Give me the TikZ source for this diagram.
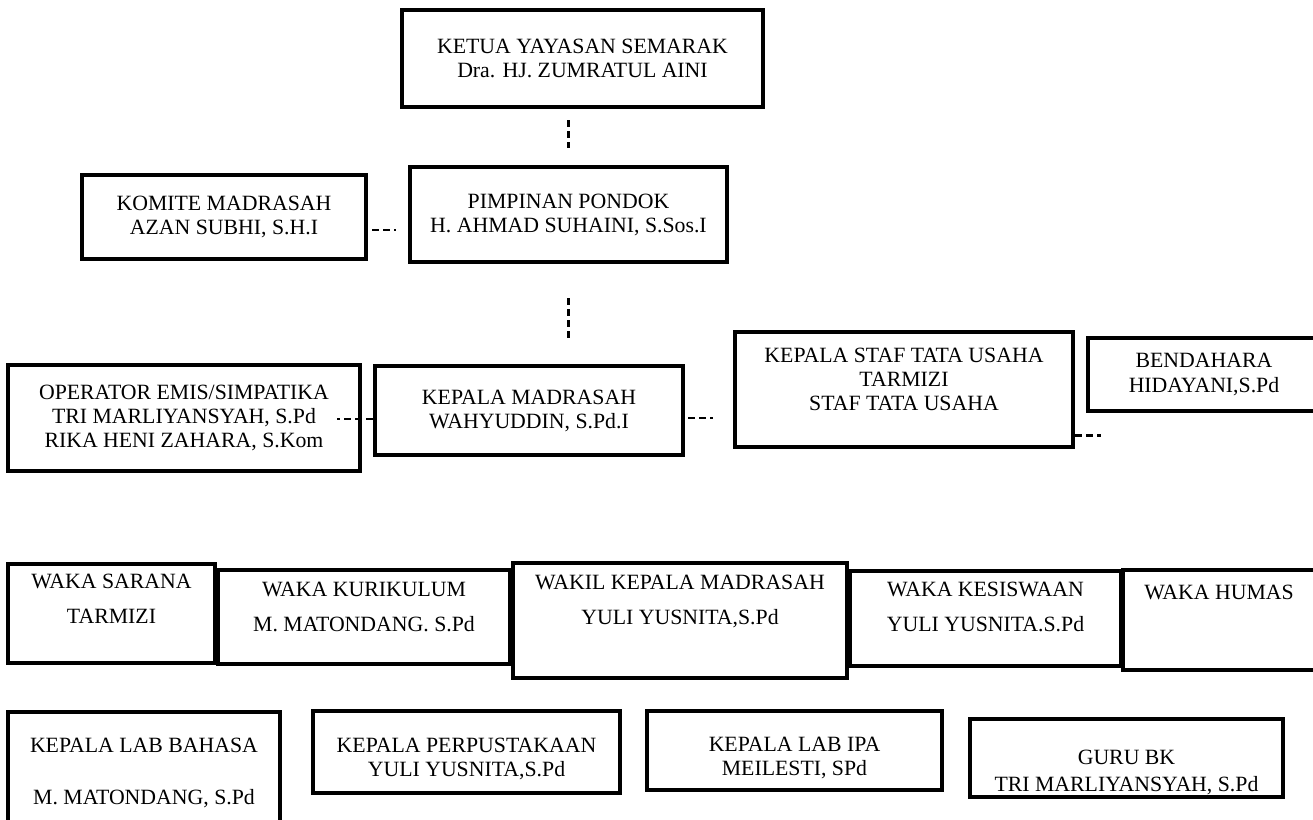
\documentclass[tikz,border=0pt]{standalone}
\usepackage{fontspec}
\setmainfont{Liberation Serif}
\usetikzlibrary{
    positioning % For relative placement of nodes
}

\begin{document}
\begin{tikzpicture}[
    x=0.02cm, y=-0.02cm, % one unit is one pixel of the page, y runs down
    font=\fontsize{12.4}{13.7}\selectfont,
    box_style/.style={draw=black, line width=2.6pt, rectangle, align=center, inner sep=0pt},
    row_style/.style={box_style, font=\fontsize{12.4}{19.9}\selectfont},
    link_style/.style={draw=black, line width=1.4pt, dash pattern=on 0.14cm off 0.08cm}
]
    % Page size
    \useasboundingbox (0,0) rectangle (1313,819);

    % Top of the chart
    \node[box_style, minimum width=7.22cm, minimum height=1.94cm] (ketua) at (582.5,58.5)
        {KETUA YAYASAN SEMARAK\\ Dra. HJ. ZUMRATUL AINI};
    \node[box_style, minimum width=5.68cm, minimum height=1.68cm] (komite) at (224,217)
        {KOMITE MADRASAH\\ AZAN SUBHI, S.H.I};
    \node[box_style, minimum width=6.34cm, minimum height=1.90cm] (pimpinan) at (568.5,214.5)
        {PIMPINAN PONDOK\\ H. AHMAD SUHAINI, S.Sos.I};

    % Madrasah level
    \node[box_style, minimum width=7.04cm, minimum height=2.12cm] (operator) at (184,418)
        {OPERATOR EMIS/SIMPATIKA\\ TRI MARLIYANSYAH, S.Pd\\ RIKA HENI ZAHARA, S.Kom};
    \node[box_style, minimum width=6.16cm, minimum height=1.78cm] (kepala) at (529,410.5)
        {KEPALA MADRASAH\\ WAHYUDDIN, S.Pd.I};
    \node[box_style, minimum width=6.76cm, minimum height=2.30cm] (staf) at (904,389.5)
        {KEPALA STAF TATA USAHA\\ TARMIZI\\ STAF TATA USAHA\\[-6.3pt] \strut};
    \node[box_style, minimum width=4.64cm, minimum height=1.46cm] (bendahara) at (1204,374.5)
        {BENDAHARA\\ HIDAYANI,S.Pd};

    % Waka row
    \node[row_style, minimum width=4.14cm, minimum height=1.98cm] (sarana) at (111.5,613.5)
        {WAKA SARANA\\ TARMIZI\\[-9.1pt] \strut};
    \node[row_style, minimum width=5.84cm, minimum height=1.88cm] (kurikulum) at (364,617)
        {WAKA KURIKULUM\\ M. MATONDANG. S.Pd\\[-14.8pt] \strut};
    \node[row_style, minimum width=6.68cm, minimum height=2.30cm] (wakil) at (680,620.5)
        {WAKIL KEPALA MADRASAH\\ YULI YUSNITA,S.Pd\\[-2.3pt] \strut};
    \node[row_style, minimum width=5.42cm, minimum height=1.90cm] (kesiswaan) at (985.5,618.5)
        {WAKA KESISWAAN\\ YULI YUSNITA.S.Pd\\[-12.5pt] \strut};
    \node[row_style, minimum width=3.84cm, minimum height=2.00cm] (humas) at (1219,620)
        {WAKA HUMAS\\ \strut\\[-13.7pt] \strut};

    % Bottom row
    \node[box_style, minimum width=5.44cm, minimum height=2.76cm] (labbahasa) at (144,781)
        {\rule{0pt}{15pt}KEPALA LAB BAHASA\\[1pt] \strut\\[1pt] M. MATONDANG, S.Pd\\ \strut};
    \node[box_style, minimum width=6.14cm, minimum height=1.64cm] (perpus) at (466.5,752)
        {\rule{0pt}{16.2pt}KEPALA PERPUSTAKAAN\\ YULI YUSNITA,S.Pd};
    \node[box_style, minimum width=5.90cm, minimum height=1.58cm] (labipa) at (794.5,750.5)
        {\rule{0pt}{16.2pt}KEPALA LAB IPA\\ MEILESTI, SPd};
    \node[box_style, minimum width=6.26cm, minimum height=1.56cm] (gurubk) at (1126.5,758)
        {\strut\\[1.7pt] GURU BK\\[1.7pt] TRI MARLIYANSYAH, S.Pd};

    % Dashed links
    \draw[link_style, shorten <=0.22cm, shorten >=0.34cm] (pimpinan.north |- ketua.south) -- (pimpinan.north);
    \draw[link_style, shorten <=0.08cm, shorten >=0.24cm] ([yshift=-0.26cm]komite.east) -- ([yshift=-0.26cm]komite.east -| pimpinan.west);
    \draw[link_style, shorten <=0.68cm, shorten >=0.46cm] (pimpinan.south) -- (pimpinan.south |- kepala.north);
    \draw[link_style] ([yshift=-0.17cm]kepala.west) -- ([xshift=-0.5cm,yshift=-0.17cm]kepala.west -| operator.east);
    \draw[link_style, shorten <=0.06cm, shorten >=0.4cm] ([yshift=-0.15cm]kepala.east) -- ([yshift=-0.15cm]kepala.east -| staf.west);
    \draw[link_style] ([yshift=0.28cm]staf.south east) -- ([xshift=0.3cm,yshift=0.28cm]staf.south east -| bendahara.west);

\end{tikzpicture}
\end{document}
